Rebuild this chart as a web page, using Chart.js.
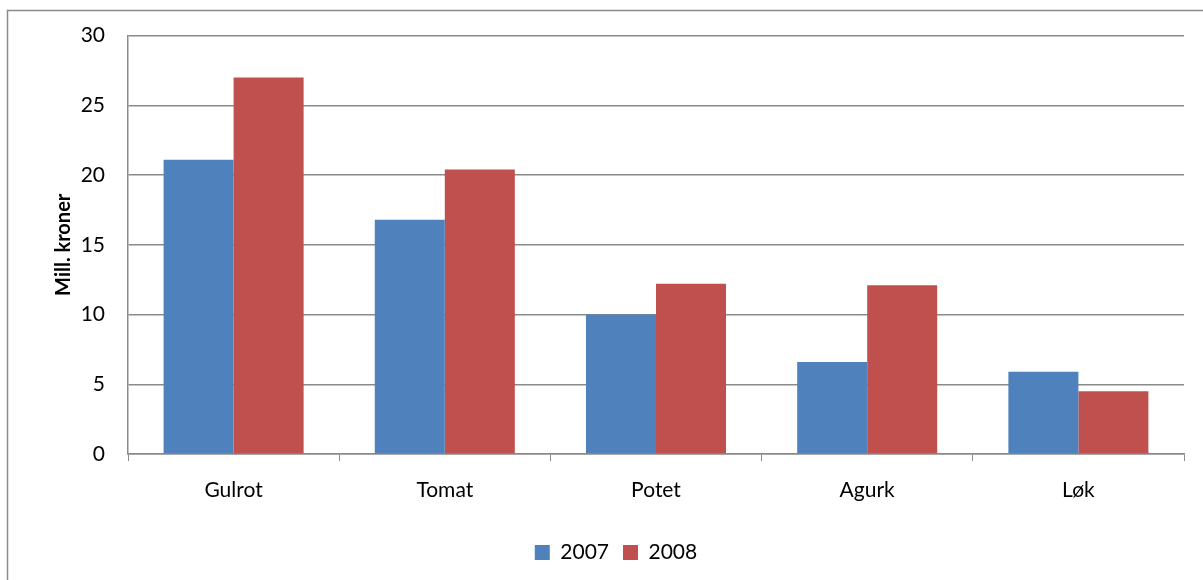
<!DOCTYPE html>
<html>
<head>
<meta charset="utf-8">
<script src="https://cdn.jsdelivr.net/npm/chart.js@4"></script>
<style>
html,body{margin:0;padding:0;background:#fff;}
#wrap{position:relative;width:1203px;height:580px;}
</style>
</head>
<body>
<div id="wrap"><canvas id="c" width="1203" height="580"></canvas></div>
<script>
const categories = ["Gulrot", "Tomat", "Potet", "Agurk", "Løk"];
const values2007 = [21.1, 16.8, 10.0, 6.6, 5.9];
const values2008 = [27.0, 20.4, 12.2, 12.1, 4.5];
const seriesLabels = ["2007", "2008"];
const yTitle = "Mill. kroner";

const FONT = "Lato, 'Open Sans', sans-serif";
const GRID = "#8a8a8a";

const outerBorder = {
  id: "outerBorder",
  beforeDraw(chart) {
    const ctx = chart.ctx;
    ctx.save();
    ctx.strokeStyle = GRID;
    ctx.lineWidth = 1.5;
    ctx.beginPath();
    ctx.moveTo(7.5, 600);
    ctx.lineTo(7.5, 10.5);
    ctx.lineTo(1210, 10.5);
    ctx.stroke();
    ctx.restore();
  }
};

new Chart(document.getElementById("c"), {
  type: "bar",
  data: {
    labels: categories,
    datasets: [
      { label: seriesLabels[0], data: values2007, backgroundColor: "#4F81BD", borderWidth: 0 },
      { label: seriesLabels[1], data: values2008, backgroundColor: "#C0504D", borderWidth: 0 }
    ]
  },
  options: {
    responsive: false,
    animation: false,
    devicePixelRatio: 1,
    layout: { padding: { left: 48, right: 19, top: 35, bottom: 7 } },
    datasets: { bar: { categoryPercentage: 0.663, barPercentage: 1.0 } },
    plugins: {
      legend: {
        position: "bottom",
        labels: {
          font: { family: FONT, size: 21 },
          color: "#000",
          boxWidth: 15,
          boxHeight: 15,
          padding: 14
        }
      },
      tooltip: { enabled: false }
    },
    scales: {
      x: {
        grid: {
          drawOnChartArea: false,
          drawTicks: true,
          tickLength: 7,
          color: GRID,
          offset: true
        },
        border: { color: GRID, width: 1.5 },
        ticks: { font: { family: FONT, size: 21 }, color: "#000", padding: 17 },
        afterFit(s) { s.height = 74; }
      },
      y: {
        min: 0,
        max: 30,
        ticks: { stepSize: 5, font: { family: FONT, size: 21 }, color: "#000", padding: 23 },
        grid: { color: GRID, lineWidth: 1.5, drawTicks: false },
        border: { color: GRID, width: 1.5 },
        title: {
          display: true,
          text: yTitle,
          font: { family: FONT, size: 20, weight: "bold" },
          color: "#000",
          padding: 4
        },
        afterFit(s) { s.width = 80; }
      }
    }
  },
  plugins: [outerBorder]
});
</script>
</body>
</html>
